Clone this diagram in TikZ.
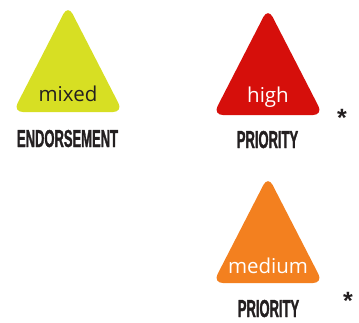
\documentclass[tikz,border=0pt]{standalone}
\usepackage{fontspec}
\setmainfont{Open Sans}
\newfontfamily\labfont[FakeStretch=0.53,FakeBold=1.2]{Liberation Sans Bold}
\newfontfamily\astfont{Liberation Sans Bold}
\definecolor{triyellow}{HTML}{D7DF23}
\definecolor{trired}{HTML}{D60F0B}
\definecolor{triorange}{HTML}{F3801F}
\definecolor{labgray}{HTML}{231F20}
\tikzset{
  tri/.style={fill=#1, draw=none, rounded corners=10pt},
  inner/.style={anchor=base, inner sep=0pt, font=\fontsize{20.5}{20.5}\selectfont},
  lab/.style={anchor=base, inner sep=0pt, text=labgray, font=\fontsize{24.5}{24.5}\labfont},
  star/.style={inner sep=0pt, text=labgray, font=\fontsize{25}{25}\astfont},
}
\newcommand{\mytri}[4]{% name, cx, top, color
  \coordinate (#1-a) at (#2,#3-4);
  \coordinate (#1-l) at (#2-55,#3+103);
  \coordinate (#1-r) at (#2+55,#3+103);
  \fill[tri=#4] (#1-a) -- (#1-l) -- (#1-r) -- cycle;
}
\begin{document}
\begin{tikzpicture}[x=1pt,y=-1pt]
\useasboundingbox (0,0) rectangle (359,322);
\mytri{t1}{68}{9}{triyellow}
\mytri{t2}{268}{12}{trired}
\mytri{t3}{268}{180}{triorange}
\node[inner, text=labgray] (mixed) at (68,101) {mixed};
\node[inner, text=white] (high) at (268,102) {high};
\node[inner, text=white] (medium) at (268,273) {medium};
\node[lab] (endorse) at (67.5,147) {ENDORSEMENT};
\node[lab] (prio1) at (267.5,148) {PRIORITY};
\node[lab] (prio2) at (268.5,317) {PRIORITY};
\node[star] (star1) at (342,118) {*};
\node[star] (star2) at (348,301) {*};
\end{tikzpicture}
\end{document}
